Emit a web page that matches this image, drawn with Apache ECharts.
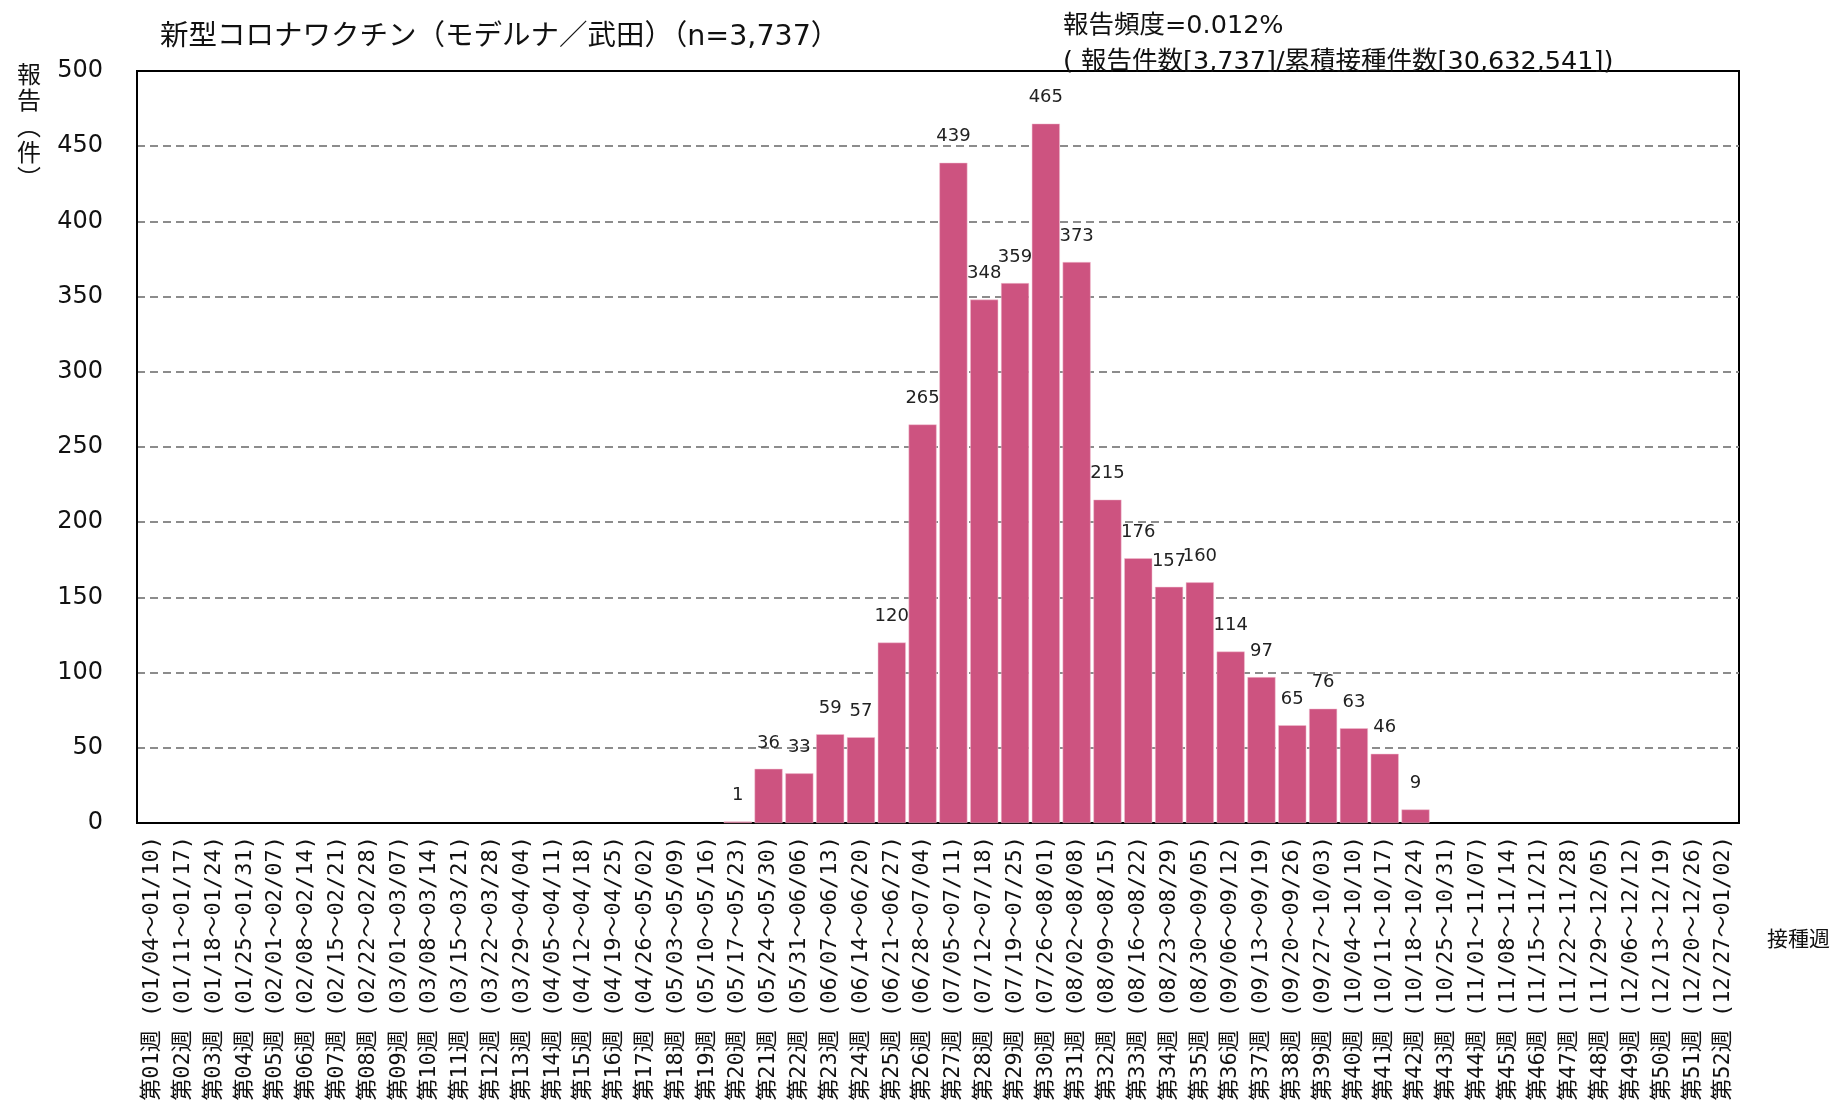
<!DOCTYPE html>
<html>
<head>
<meta charset="utf-8">
<script src="https://cdn.jsdelivr.net/npm/echarts@6/dist/echarts.min.js"></script>
<style>
  html, body { margin: 0; padding: 0; background: #fff; }
  #chart { width: 1847px; height: 1112px; }
</style>
</head>
<body>
<div id="chart"></div>
<script>
// 接種週 (週番号と期間)
const weeks = [
  '第01週', '第02週', '第03週', '第04週', '第05週', '第06週', '第07週', '第08週', '第09週', '第10週',
  '第11週', '第12週', '第13週', '第14週', '第15週', '第16週', '第17週', '第18週', '第19週', '第20週',
  '第21週', '第22週', '第23週', '第24週', '第25週', '第26週', '第27週', '第28週', '第29週', '第30週',
  '第31週', '第32週', '第33週', '第34週', '第35週', '第36週', '第37週', '第38週', '第39週', '第40週',
  '第41週', '第42週', '第43週', '第44週', '第45週', '第46週', '第47週', '第48週', '第49週', '第50週',
  '第51週', '第52週'
]
const periods = [
  '01/04～01/10', '01/11～01/17', '01/18～01/24', '01/25～01/31', '02/01～02/07', '02/08～02/14',
  '02/15～02/21', '02/22～02/28', '03/01～03/07', '03/08～03/14', '03/15～03/21', '03/22～03/28',
  '03/29～04/04', '04/05～04/11', '04/12～04/18', '04/19～04/25', '04/26～05/02', '05/03～05/09',
  '05/10～05/16', '05/17～05/23', '05/24～05/30', '05/31～06/06', '06/07～06/13', '06/14～06/20',
  '06/21～06/27', '06/28～07/04', '07/05～07/11', '07/12～07/18', '07/19～07/25', '07/26～08/01',
  '08/02～08/08', '08/09～08/15', '08/16～08/22', '08/23～08/29', '08/30～09/05', '09/06～09/12',
  '09/13～09/19', '09/20～09/26', '09/27～10/03', '10/04～10/10', '10/11～10/17', '10/18～10/24',
  '10/25～10/31', '11/01～11/07', '11/08～11/14', '11/15～11/21', '11/22～11/28', '11/29～12/05',
  '12/06～12/12', '12/13～12/19', '12/20～12/26', '12/27～01/02'
]
// 報告件数 (値のない週は null)
const reports = [
  null, null, null, null, null, null, null, null, null, null,
  null, null, null, null, null, null, null, null, null, 1,
  36, 33, 59, 57, 120, 265, 439, 348, 359, 465,
  373, 215, 176, 157, 160, 114, 97, 65, 76, 63,
  46, 9, null, null, null, null, null, null, null, null,
  null, null
]
const yTicks = [0, 50, 100, 150, 200, 250, 300, 350, 400, 450, 500]

const categories = weeks.map((w, i) => `${w} (${periods[i]})`)

const chart = echarts.init(document.getElementById('chart'))
chart.setOption({
  animation: false,
  backgroundColor: '#fff',
  title: [
    {
      text: '新型コロナワクチン（モデルナ／武田）（n=3,737）',
      left: 155, top: 18,
      textStyle: { fontFamily: 'DejaVu Sans, Noto Sans CJK JP', fontSize: 28.5, fontWeight: 'normal', color: '#111' }
    },
    {
      text: '報告頻度=0.012%\n( 報告件数[3,737]/累積接種件数[30,632,541])',
      left: 1058, top: 3,
      textStyle: { fontFamily: 'DejaVu Sans, Noto Sans CJK JP', fontSize: 25.5, fontWeight: 'normal', color: '#111', lineHeight: 36 }
    }
  ],
  graphic: [
    {
      type: 'text', left: 17, top: 61,
      style: { text: '報\n告\n︵\n件\n︶', font: '24px "Noto Sans CJK JP"', fill: '#111', lineHeight: 26 }
    },
    {
      type: 'text', left: 1767, top: 928,
      style: { text: '接種週', font: '21px "Noto Sans CJK JP"', fill: '#111' }
    }
  ],
  grid: {
    left: 137, right: 108, top: 71, bottom: 289,
    show: true, borderColor: '#000', borderWidth: 2
  },
  xAxis: {
    type: 'category',
    data: categories,
    axisLine: { lineStyle: { color: '#000', width: 2 } },
    axisTick: { show: false },
    axisLabel: {
      interval: 0, rotate: 90, margin: 13,
      fontFamily: 'DejaVu Sans Mono, Noto Sans CJK JP', fontSize: 22, color: '#111'
    }
  },
  yAxis: {
    type: 'value',
    min: yTicks[0], max: yTicks[yTicks.length - 1], interval: 50,
    axisLine: { show: true, lineStyle: { color: '#000', width: 2 } },
    axisTick: { show: false },
    axisLabel: { margin: 34, fontFamily: 'DejaVu Sans', fontSize: 24, color: '#111' },
    splitLine: { showMaxLine: false, lineStyle: { color: '#8c8c8c', width: 2, type: [8, 5] } }
  },
  series: [{
    type: 'bar',
    data: reports,
    barCategoryGap: '9%',
    itemStyle: { color: '#cd5380', borderColor: '#f2c3d3', borderWidth: 0.5 },
    label: {
      show: true, position: 'top', distance: 17,
      fontFamily: 'DejaVu Sans', fontSize: 18, color: '#222'
    }
  }]
})
</script>
</body>
</html>
